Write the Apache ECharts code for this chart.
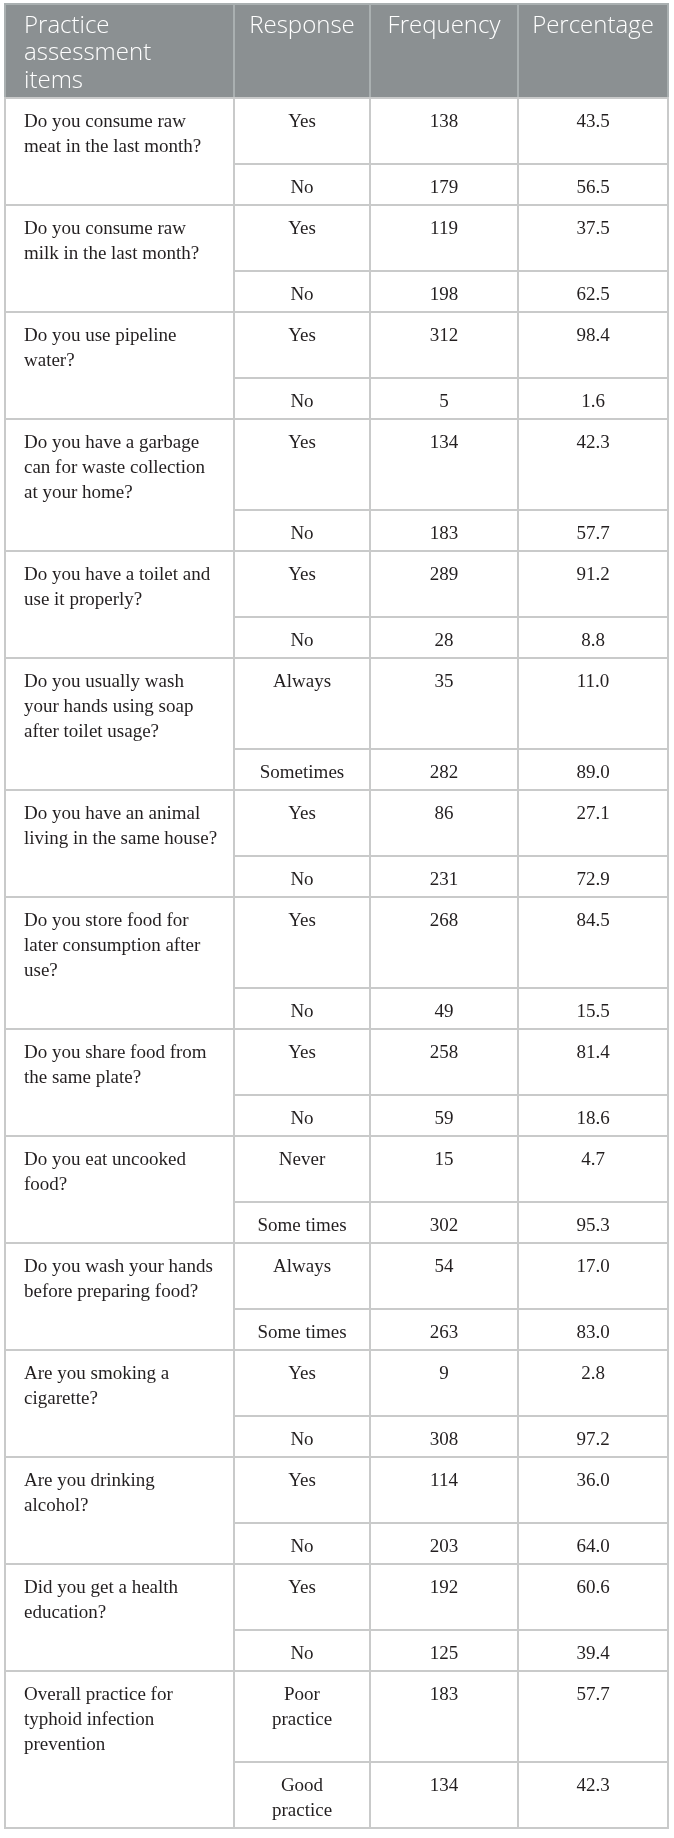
<!DOCTYPE html>
<html>
<head>
<meta charset="utf-8">
<script src="https://cdn.jsdelivr.net/npm/echarts@6/dist/echarts.min.js"></script>
<style>
  html, body { margin: 0; padding: 0; background: #fff; }
  #chart { width: 674px; height: 1838px; }
</style>
</head>
<body>
<div id="chart"></div>
<script>
var headers = ['Practice\nassessment\nitems', 'Response', 'Frequency', 'Percentage'];

var items = [
    'Do you consume raw\nmeat in the last month?',
    'Do you consume raw\nmilk in the last month?',
    'Do you use pipeline\nwater?',
    'Do you have a garbage\ncan for waste collection\nat your home?',
    'Do you have a toilet and\nuse it properly?',
    'Do you usually wash\nyour hands using soap\nafter toilet usage?',
    'Do you have an animal\nliving in the same house?',
    'Do you store food for\nlater consumption after\nuse?',
    'Do you share food from\nthe same plate?',
    'Do you eat uncooked\nfood?',
    'Do you wash your hands\nbefore preparing food?',
    'Are you smoking a\ncigarette?',
    'Are you drinking\nalcohol?',
    'Did you get a health\neducation?',
    'Overall practice for\ntyphoid infection\nprevention'
];

var responses = [
    ['Yes', 'No'], ['Yes', 'No'], ['Yes', 'No'], ['Yes', 'No'], ['Yes', 'No'],
    ['Always', 'Sometimes'], ['Yes', 'No'], ['Yes', 'No'], ['Yes', 'No'],
    ['Never', 'Some times'], ['Always', 'Some times'], ['Yes', 'No'],
    ['Yes', 'No'], ['Yes', 'No'], ['Poor\npractice', 'Good\npractice']
];

var frequency = [
    [138, 179], [119, 198], [312, 5], [134, 183], [289, 28],
    [35, 282], [86, 231], [268, 49], [258, 59], [15, 302],
    [54, 263], [9, 308], [114, 203], [192, 125], [183, 134]
];

var percentage = [
    [43.5, 56.5], [37.5, 62.5], [98.4, 1.6], [42.3, 57.7], [91.2, 8.8],
    [11.0, 89.0], [27.1, 72.9], [84.5, 15.5], [81.4, 18.6], [4.7, 95.3],
    [17.0, 83.0], [2.8, 97.2], [36.0, 64.0], [60.6, 39.4], [57.7, 42.3]
];

// layout of the table, in pixels of the axes
var colEdges = [0, 229, 365, 513, 663];
var headerH = 94;
var linePx = 25;
var rowPad = 16;

function nLines(s) { return s.split('\n').length; }

// cells: [column, top, bottom, text, kind]
var cells = [];
headers.forEach(function (h, c) {
    cells.push([c, 0, headerH, h, 'head']);
});
var y = headerH;
items.forEach(function (q, i) {
    var h0 = rowPad + linePx * Math.max(nLines(q), nLines(responses[i][0]));
    var h1 = rowPad + linePx * nLines(responses[i][1]);
    cells.push([0, y, y + h0 + h1, q, 'body']);
    for (var r = 0; r < 2; r++) {
        var top = r === 0 ? y : y + h0;
        var bot = r === 0 ? y + h0 : y + h0 + h1;
        cells.push([1, top, bot, responses[i][r], 'body']);
        cells.push([2, top, bot, String(frequency[i][r]), 'body']);
        cells.push([3, top, bot, percentage[i][r].toFixed(1), 'body']);
    }
    y += h0 + h1;
});
var totalH = y;

function renderCell(params, api) {
    var d = cells[params.dataIndex];
    var c = d[0];
    var p0 = api.coord([colEdges[c], d[1]]);
    var p1 = api.coord([colEdges[c + 1], d[2]]);
    var head = d[4] === 'head';
    var left = c === 0;
    return {
        type: 'group',
        children: [
            {
                type: 'rect',
                shape: {x: p0[0], y: p0[1], width: p1[0] - p0[0], height: p1[1] - p0[1]},
                style: {
                    fill: head ? '#8b9092' : '#ffffff',
                    stroke: head ? '#aab0b1' : '#c9caca',
                    lineWidth: 2
                }
            },
            {
                type: 'text',
                x: left ? p0[0] + 19 : (p0[0] + p1[0]) / 2,
                y: p0[1] + (head ? 8 : 12),
                style: {
                    text: d[3],
                    fill: head ? '#ffffff' : '#231f20',
                    fontFamily: head ? 'Open Sans' : 'Liberation Serif',
                    fontSize: head ? 24 : 19,
                    fontWeight: head ? 300 : 'normal',
                    align: left ? 'left' : 'center',
                    verticalAlign: 'top',
                    lineHeight: head ? 27.5 : 25
                }
            }
        ]
    };
}

var myChart = echarts.init(document.getElementById('chart'));

var option = {
    animation: false,
    grid: {
        left: 5,
        top: 4,
        width: colEdges[colEdges.length - 1],
        height: totalH
    },
    xAxis: {
        type: 'value',
        min: 0,
        max: colEdges[colEdges.length - 1],
        show: false
    },
    yAxis: {
        type: 'value',
        min: 0,
        max: totalH,
        inverse: true,
        show: false
    },
    series: [
        {
            type: 'custom',
            clip: false,
            renderItem: renderCell,
            data: cells.map(function (d) { return [d[0], d[1], d[2]]; })
        }
    ]
};
myChart.setOption(option);
</script>
</body>
</html>
